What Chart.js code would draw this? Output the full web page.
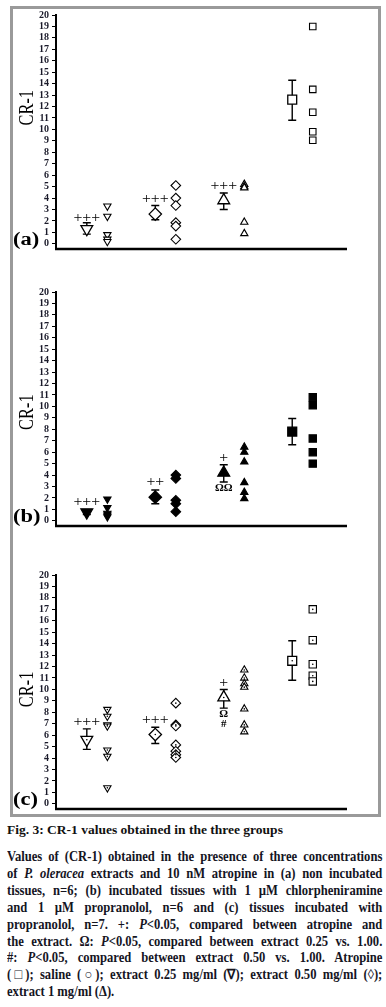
<!DOCTYPE html>
<html>
<head>
<meta charset="utf-8">
<script src="https://cdn.jsdelivr.net/npm/chart.js@4.4.1/dist/chart.umd.min.js"></script>
<style>
  body { margin: 0; background: #fff; width: 386px; height: 1007px; position: relative; overflow: hidden;
         font-family: "Liberation Serif", "Times New Roman", serif; color: #111; }
  #frame { position: absolute; left: 10px; top: 6px; width: 365px; height: 805px; border: 3px solid #9a9a9a; }
  canvas { position: absolute; left: 12px; }
  #figTitle { position: absolute; left: 7px; top: 822px; font-weight: bold; font-size: 13.5px; white-space: nowrap; }
  #legendText { position: absolute; left: 7px; top: 849px; width: 417px; transform: scaleX(0.9); transform-origin: 0 0;
                font-weight: bold; font-size: 14px; line-height: 16.9px; color: #15151f; }
  #legendText div { text-align: justify; text-align-last: justify; white-space: nowrap; }
  #legendText div.last { text-align-last: left; }
</style>
</head>
<body>
<div id="frame"></div>
<canvas id="chartA" width="366" height="252" style="top:6px"></canvas>
<canvas id="chartB" width="366" height="252" style="top:283px"></canvas>
<canvas id="chartC" width="366" height="252" style="top:566px"></canvas>

<div id="figTitle">Fig. 3: CR-1 values obtained in the three groups</div>
<div id="legendText">
  <div>Values of (CR-1) obtained in the presence of three concentrations</div>
  <div>of <i>P. oleracea</i> extracts and 10 nM atropine in (a) non incubated</div>
  <div>tissues, n=6; (b) incubated tissues with 1 µM chlorpheniramine</div>
  <div>and 1 µM propranolol, n=6 and (c) tissues incubated with</div>
  <div>propranolol, n=7. +: <i>P</i>&lt;0.05, compared between atropine and</div>
  <div>the extract. Ω: <i>P</i>&lt;0.05, compared between extract 0.25 vs. 1.00.</div>
  <div>#: <i>P</i>&lt;0.05, compared between extract 0.50 vs. 1.00. Atropine</div>
  <div>(□); saline (○); extract 0.25 mg/ml (∇); extract 0.50 mg/ml (◊);</div>
  <div class="last">extract 1 mg/ml (Δ).</div>
</div>

<script>
// groups along the x axis (no tick labels in the figure)
const groups = ['Extract 0.25 mg/ml', 'Extract 0.50 mg/ml', 'Extract 1 mg/ml', 'Atropine'];
const yTicks = [0, 1, 2, 3, 4, 5, 6, 7, 8, 9, 10, 11, 12, 13, 14, 15, 16, 17, 18, 19, 20];

// (a) non incubated tissues
const meanA = [1.3, 2.6, 3.8, 12.6];
const lowA = [0.85, 2.1, 3.0, 10.8];
const highA = [1.85, 3.35, 4.45, 14.3];
const ptsA = [
  [3.3, 2.4, 0.8, 0.4, 0.2],
  [5.1, 4.0, 3.35, 1.85, 1.55, 0.4],
  [5.2, 5.0, 4.9, 1.9, 0.9],
  [19.0, 13.5, 11.5, 9.8, 9.05]
];
const marksA = [['+++', 0, 2.3], ['+++', 1, 4.0], ['+++', 2, 5.15]];

// (b) chlorpheniramine + propranolol
const meanB = [0.75, 2.07, 4.2, 7.8];
const lowB = [0.55, 1.5, 3.4, 6.65];
const highB = [0.95, 2.7, 4.9, 8.95];
const ptsB = [
  [1.9, 1.15, 0.65, 0.5, 0.35],
  [4.0, 3.7, 1.8, 1.5, 0.8],
  [6.45, 6.0, 5.15, 3.35, 2.5, 1.95],
  [10.8, 10.1, 7.2, 6.0, 5.0]
];
const marksB = [['+++', 0, 1.75], ['++', 1, 3.5], ['+', 2, 5.6], ['ΩΩ', 2, 2.9]];

// (c) propranolol
const meanC = [5.6, 6.06, 9.3, 12.5];
const lowC = [4.76, 5.28, 8.37, 10.8];
const highC = [6.55, 6.7, 10.0, 14.25];
const ptsC = [
  [8.25, 7.65, 6.9, 6.8, 4.7, 4.15, 1.4],
  [8.8, 6.9, 6.8, 5.15, 4.6, 4.3, 4.05],
  [11.7, 11.0, 10.5, 10.2, 8.3, 6.9, 6.3],
  [17.0, 14.3, 12.2, 11.2, 10.7]
];
const marksC = [['+++', 0, 7.25], ['+++', 1, 7.4], ['+', 2, 10.6], ['Ω', 2, 7.85], ['#', 2, 7.0]];

const styles = [
  { style: 'triangle', rot: 180, small: 4.2, big: 6.8 },
  { style: 'rectRot', rot: 0, small: 4.8, big: 6.2 },
  { style: 'triangle', rot: 0, small: 4.2, big: 6.8 },
  { style: 'rect', rot: 0, small: 4.6, big: 6.3 }
];

const MEAN_OFF = 0.45, PTS_OFF = 0.75;
const FONT = '"Liberation Serif", "Times New Roman", serif';

function decoPlugin(p) {
  return {
    id: 'deco' + p.tag,
    beforeDatasetsDraw(chart) {
      const { ctx } = chart;
      const xs = chart.scales.x, ys = chart.scales.y;
      ctx.save();
      ctx.strokeStyle = '#000';
      ctx.lineWidth = 1.4;
      p.mean.forEach((m, i) => {
        const x = xs.getPixelForValue(i + MEAN_OFF);
        const y1 = ys.getPixelForValue(p.low[i]);
        const y2 = ys.getPixelForValue(p.high[i]);
        ctx.beginPath();
        ctx.moveTo(x, y1); ctx.lineTo(x, y2);
        ctx.moveTo(x - 4, y1); ctx.lineTo(x + 4, y1);
        ctx.moveTo(x - 4, y2); ctx.lineTo(x + 4, y2);
        ctx.stroke();
      });
      ctx.restore();
    },
    afterDraw(chart) {
      const { ctx, chartArea } = chart;
      const xs = chart.scales.x, ys = chart.scales.y;
      ctx.save();
      // x axis line
      ctx.strokeStyle = '#000';
      ctx.lineWidth = 2.6;
      ctx.beginPath();
      ctx.moveTo(chartArea.left - 1, chartArea.bottom);
      ctx.lineTo(chartArea.right, chartArea.bottom);
      ctx.stroke();

      // significance marks
      ctx.fillStyle = '#000';
      ctx.textAlign = 'center';
      ctx.textBaseline = 'middle';
      p.marks.forEach(([txt, g, v]) => {
        const x = xs.getPixelForValue(g + MEAN_OFF);
        const y = ys.getPixelForValue(v);
        ctx.save();
        ctx.translate(x, y);
        if (txt[0] === '+') {
          ctx.scale(1.05, 1);
          ctx.font = '15px ' + FONT;
          ctx.fillText(txt, 0, 1);
        } else {
          ctx.font = 'bold 11px ' + FONT;
          ctx.fillText(txt, 0, 0);
        }
        ctx.restore();
      });

      // axis title CR-1
      ctx.save();
      ctx.translate(15, ys.getPixelForValue(p.titleY));
      ctx.rotate(-Math.PI / 2);
      ctx.scale(0.78, 1);
      ctx.font = '21px ' + FONT;
      ctx.fillText('CR-1', 0, 0);
      ctx.restore();

      // panel letter
      ctx.save();
      ctx.translate(1, ys.getPixelForValue(0.35));
      ctx.scale(1.25, 1);
      ctx.textAlign = 'left';
      ctx.font = 'bold 18px ' + FONT;
      ctx.fillText(p.letter, 0, 0);
      ctx.restore();
      ctx.restore();
    }
  };
}

function makePanel(id, p) {
  const fill = p.filled ? '#000' : '#fff';
  const datasets = [];
  if (p.dotted) {
    const dots = [];
    p.mean.forEach((m, i) => dots.push({ x: i + MEAN_OFF, y: m }));
    p.pts.forEach((arr, i) => arr.forEach(v => dots.push({ x: i + PTS_OFF, y: v })));
    datasets.push({ label: 'centre', data: dots, pointStyle: 'circle', pointRadius: 0.8,
      backgroundColor: '#000', borderWidth: 0, order: 0 });
  }
  datasets.push({
    label: 'mean ± SEM',
    data: p.mean.map((m, i) => ({ x: i + MEAN_OFF, y: m })),
    pointStyle: styles.map(s => s.style),
    rotation: styles.map(s => s.rot),
    pointRadius: styles.map(s => s.big),
    backgroundColor: fill, borderColor: '#000', borderWidth: 1.3, order: 1
  });
  groups.forEach((g, i) => {
    datasets.push({
      label: g,
      data: p.pts[i].map(v => ({ x: i + PTS_OFF, y: v })),
      pointStyle: styles[i].style,
      rotation: styles[i].rot,
      pointRadius: styles[i].small + (p.bigger && i === 3 ? 0.6 : 0),
      backgroundColor: fill, borderColor: '#000', borderWidth: 1.1, order: 1
    });
  });

  new Chart(document.getElementById(id), {
    type: 'scatter',
    data: { datasets },
    options: {
      responsive: false,
      animation: false,
      events: [],
      layout: { padding: { top: 8, right: 31, bottom: 8, left: 0 } },
      plugins: { legend: { display: false }, tooltip: { enabled: false } },
      scales: {
        x: { type: 'linear', min: 0, max: 4.25, display: false },
        y: {
          type: 'linear', min: -0.45, max: 20,
          afterBuildTicks: s => { s.ticks = yTicks.map(v => ({ value: v })); },
          afterFit: s => { s.width = 44; },
          ticks: { color: '#1a1a2a', font: { family: FONT, size: 10, weight: 'bold' }, padding: 3, autoSkip: false },
          grid: { drawOnChartArea: false, drawTicks: true, tickLength: 4, color: '#000', lineWidth: 1 },
          border: { display: true, color: '#000', width: 2 }
        }
      }
    },
    plugins: [decoPlugin(p)]
  });
}

makePanel('chartA', { tag: 'A', letter: '(a)', mean: meanA, low: lowA, high: highA, pts: ptsA, marks: marksA, titleY: 11.9 });
makePanel('chartB', { tag: 'B', letter: '(b)', mean: meanB, low: lowB, high: highB, pts: ptsB, marks: marksB, titleY: 9.5, filled: true, bigger: true });
makePanel('chartC', { tag: 'C', letter: '(c)', mean: meanC, low: lowC, high: highC, pts: ptsC, marks: marksC, titleY: 10, dotted: true, bigger: true });
</script>
</body>
</html>
